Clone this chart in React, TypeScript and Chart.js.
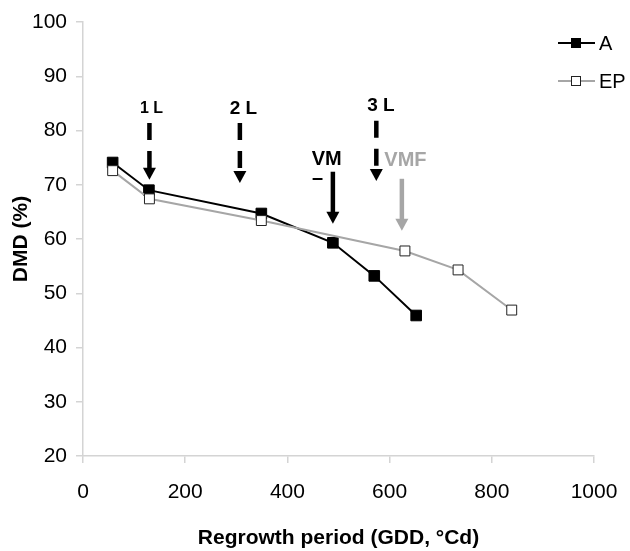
import React, { useEffect, useRef } from "react";
import { Chart, registerables } from "chart.js";

Chart.register(...registerables);

// ---- data ----
const seriesNames = ["A", "EP"];
const aX = [58, 129, 349, 489, 570, 652];
const aY = [74.1, 69.0, 64.7, 59.3, 53.2, 45.9];
const epX = [58, 130, 349, 630, 734, 839];
const epY = [72.6, 67.4, 63.4, 57.8, 54.3, 46.9];

const xMin = 0;
const xMax = 1000;
const xStep = 200;
const yMin = 20;
const yMax = 100;
const yStep = 10;

const xTitle = "Regrowth period (GDD, °Cd)";
const yTitle = "DMD (%)";

// annotation arrows (data coordinates)
const arrowLabels = ["1 L", "2 L", "3 L", "VM", "VMF"];
const arrowX = [130, 307, 574, 489, 624];
const arrowTop = [81.4, 81.4, 81.8, 72.4, 71.1];
const arrowTip = [70.9, 70.3, 70.7, 62.8, 61.5];
const labelX = [134, 314, 583, 477, 631];
const labelY = [84.0, 84.0, 84.6, 74.7, 74.5];
const noteText = ["–"];
const noteX = [459];
const noteY = [71.2];

// styles
const arrowDashed = [true, true, true, false, false];
const arrowColors = ["#000000", "#000000", "#000000", "#000000", "#a6a6a6"];
const labelSizes = [16, 19, 19, 20, 20];

const FONT = '"Liberation Sans", Arial, Helvetica, sans-serif';

const arrowPlugin = {
  id: "arrowNotes",
  afterDatasetsDraw(chart: any) {
    const { ctx, scales } = chart;
    const x = scales.x;
    const y = scales.y;
    ctx.save();
    arrowLabels.forEach((lab, i) => {
      const px = x.getPixelForValue(arrowX[i]);
      const pTop = y.getPixelForValue(arrowTop[i]);
      const pTip = y.getPixelForValue(arrowTip[i]);
      const headH = 12;
      const headW = 13;
      ctx.strokeStyle = arrowColors[i];
      ctx.fillStyle = arrowColors[i];
      ctx.lineWidth = 4.5;
      ctx.lineCap = "butt";
      ctx.setLineDash(arrowDashed[i] ? [17, 11] : []);
      ctx.beginPath();
      ctx.moveTo(px, pTop);
      ctx.lineTo(px, pTip - headH + 1);
      ctx.stroke();
      ctx.setLineDash([]);
      ctx.beginPath();
      ctx.moveTo(px - headW / 2, pTip - headH);
      ctx.lineTo(px + headW / 2, pTip - headH);
      ctx.lineTo(px, pTip);
      ctx.closePath();
      ctx.fill();
      ctx.font = `bold ${labelSizes[i]}px ${FONT}`;
      ctx.textAlign = "center";
      ctx.textBaseline = "middle";
      ctx.fillText(lab, x.getPixelForValue(labelX[i]), y.getPixelForValue(labelY[i]));
    });
    ctx.fillStyle = "#000";
    ctx.font = `bold 20px ${FONT}`;
    noteText.forEach((t, i) => {
      ctx.fillText(t, x.getPixelForValue(noteX[i]), y.getPixelForValue(noteY[i]));
    });
    ctx.restore();
  },
};

const legendPlugin = {
  id: "customLegend",
  afterDraw(chart: any) {
    const { ctx } = chart;
    ctx.save();
    const rows = [43, 81];
    chart.data.datasets.forEach((ds: any) => {
      const idx = seriesNames.indexOf(ds.label);
      const yy = rows[idx];
      ctx.strokeStyle = ds.borderColor;
      ctx.lineWidth = ds.borderWidth;
      ctx.beginPath();
      ctx.moveTo(558, yy);
      ctx.lineTo(595, yy);
      ctx.stroke();
      const s = 10;
      ctx.fillStyle = ds.pointBackgroundColor;
      ctx.fillRect(576 - s / 2, yy - s / 2, s, s);
      ctx.strokeStyle = ds.pointBorderColor;
      ctx.lineWidth = 1;
      ctx.strokeRect(576 - s / 2 + 0.5, yy - s / 2 + 0.5, s - 1, s - 1);
      ctx.fillStyle = "#000";
      ctx.font = `20px ${FONT}`;
      ctx.textAlign = "left";
      ctx.textBaseline = "middle";
      ctx.fillText(ds.label, 599, yy + 1);
    });
    ctx.restore();
  },
};

export default function App() {
  const ref = useRef<HTMLCanvasElement | null>(null);
  useEffect(() => {
    if (!ref.current) return;
    const axisColor = "#d4d4d4";
    const chart = new Chart(ref.current, {
      type: "line",
      data: {
        datasets: [
          {
            label: seriesNames[1],
            data: epX.map((v, i) => ({ x: v, y: epY[i] })),
            borderColor: "#a6a6a6",
            borderWidth: 2,
            pointStyle: "rect",
            pointRadius: 7,
            pointBackgroundColor: "#ffffff",
            pointBorderColor: "#222222",
            pointBorderWidth: 1,
            tension: 0,
            order: 0,
          },
          {
            label: seriesNames[0],
            data: aX.map((v, i) => ({ x: v, y: aY[i] })),
            borderColor: "#000000",
            borderWidth: 2,
            pointStyle: "rect",
            pointRadius: 7.5,
            pointBackgroundColor: "#000000",
            pointBorderColor: "#000000",
            pointBorderWidth: 1,
            tension: 0,
            order: 1,
          },
        ],
      },
      options: {
        responsive: false,
        animation: false,
        events: [],
        layout: { padding: { top: 22, right: 36, left: 0, bottom: 0 } },
        plugins: {
          legend: { display: false },
          tooltip: { enabled: false },
        },
        scales: {
          x: {
            type: "linear",
            min: xMin,
            max: xMax,
            ticks: {
              stepSize: xStep,
              color: "#000",
              font: { family: FONT, size: 21 },
              padding: 17,
              maxRotation: 0,
              callback: (v: any) => String(v),
            },
            grid: {
              display: true,
              drawOnChartArea: false,
              drawTicks: true,
              tickLength: 7,
              color: axisColor,
              lineWidth: 1.5,
            },
            border: { display: true, color: axisColor, width: 1.5 },
            title: {
              display: true,
              text: xTitle,
              color: "#000",
              font: { family: FONT, size: 21, weight: "bold" },
              padding: { top: 0, bottom: 0 },
            },
            afterFit: (s: any) => {
              s.height = 95;
              s.paddingRight = 0;
              s.paddingLeft = 0;
            },
          },
          y: {
            type: "linear",
            min: yMin,
            max: yMax,
            ticks: {
              stepSize: yStep,
              color: "#000",
              font: { family: FONT, size: 21 },
              padding: 9,
              callback: (v: any) => String(v),
            },
            grid: {
              display: true,
              drawOnChartArea: false,
              drawTicks: true,
              tickLength: 7,
              color: axisColor,
              lineWidth: 1.5,
            },
            border: { display: true, color: axisColor, width: 1.5 },
            title: {
              display: true,
              text: yTitle,
              color: "#000",
              font: { family: FONT, size: 21, weight: "bold" },
              padding: { top: 9, bottom: 0 },
            },
            afterFit: (s: any) => {
              s.width = 83;
            },
          },
        },
      },
      plugins: [arrowPlugin, legendPlugin],
    });
    return () => chart.destroy();
  }, []);
  return (
    <div style={{ position: "fixed", left: 0, top: 0, width: 630, height: 551, background: "#fff" }}>
      <canvas ref={ref} width={630} height={551} style={{ display: "block" }} />
    </div>
  );
}
